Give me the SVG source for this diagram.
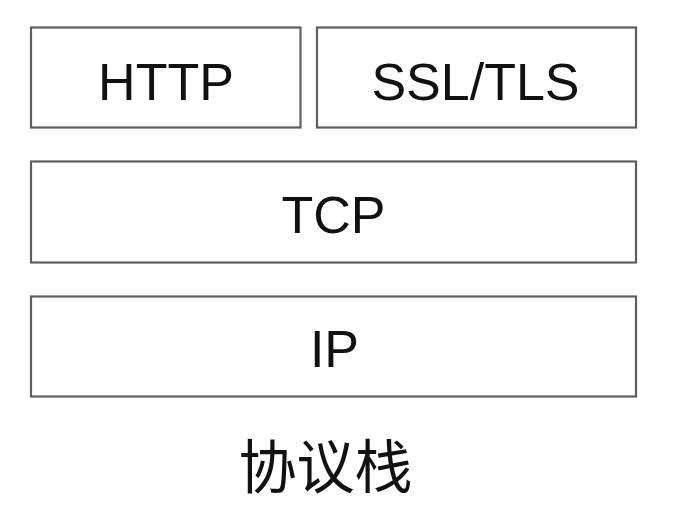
<svg xmlns="http://www.w3.org/2000/svg" width="688" height="526" viewBox="0 0 688 526">
<style>
.box{fill:#ffffff;stroke:#5f5f5f;stroke-width:2.2}
.lbl{font-family:"Liberation Sans",Arial,sans-serif;font-size:52px;fill:#111111;text-anchor:middle}
.cap{font-family:"Noto Sans CJK SC","Noto Sans CJK JP",sans-serif;font-size:58px;fill:#111111;text-anchor:middle}
</style>
<rect x="0" y="0" width="688" height="526" fill="#ffffff"/>
<g id="connectors"></g>
<g id="http">
<rect class="box" x="31" y="27.5" width="269.5" height="100"/>
<text class="lbl" x="166" y="100">HTTP</text>
</g>
<g id="ssl-tls">
<rect class="box" x="317" y="27.5" width="319" height="100"/>
<text class="lbl" x="475.5" y="100">SSL/TLS</text>
</g>
<g id="tcp">
<rect class="box" x="31" y="161.5" width="605" height="101"/>
<text class="lbl" x="333.5" y="233">TCP</text>
</g>
<g id="ip">
<rect class="box" x="31" y="296.5" width="605" height="100"/>
<text class="lbl" x="334.5" y="367">IP</text>
</g>
<g id="caption">
<text class="cap" x="325.5" y="488">协议栈</text>
</g>
</svg>
